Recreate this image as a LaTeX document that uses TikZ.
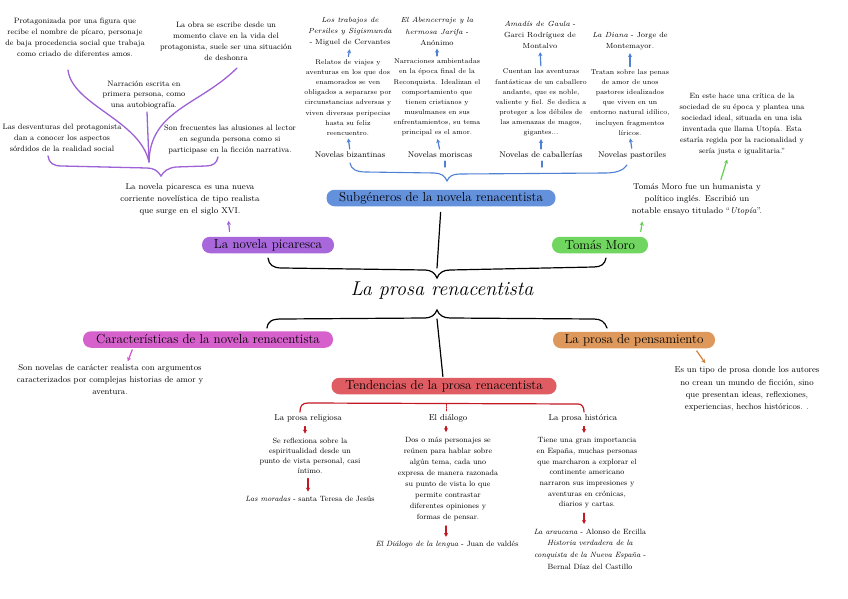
\documentclass[tikz,border=0pt]{standalone}
\usepackage{fontspec}
\usetikzlibrary{arrows.meta}
\definecolor{cbluebox}{RGB}{100,145,220}
\definecolor{cpurbox}{RGB}{168,104,220}
\definecolor{cgreenbox}{RGB}{112,214,96}
\definecolor{cmagbox}{RGB}{214,96,204}
\definecolor{corangebox}{RGB}{222,152,92}
\definecolor{credbox}{RGB}{222,92,98}
\definecolor{cpurl}{RGB}{158,98,214}
\definecolor{cbluel}{RGB}{78,128,212}
\definecolor{credl}{RGB}{196,24,36}
\definecolor{cgreenl}{RGB}{100,210,80}
\definecolor{cpinkl}{RGB}{214,80,200}
\definecolor{corangel}{RGB}{210,130,60}
\tikzset{
 tA/.style={align=center, inner sep=1pt, font=\fontsize{7.8}{10.9}\selectfont},
 tT/.style={align=center, inner sep=1pt, font=\fontsize{7.4}{11.3}\selectfont},
 tD/.style={align=center, inner sep=1pt, font=\fontsize{6.9}{10.1}\selectfont},
 tL/.style={align=center, inner sep=1pt, font=\fontsize{8.2}{10}\selectfont},
 tB/.style={align=center, inner sep=1pt, font=\fontsize{8.4}{12}\selectfont},
 tH/.style={align=center, inner sep=1pt, font=\fontsize{8.5}{12.2}\selectfont},
 tK/.style={align=center, inner sep=1pt, font=\fontsize{8.5}{10}\selectfont},
 tR/.style={align=center, inner sep=1pt, font=\fontsize{7.6}{10.7}\selectfont},
 pill/.style={rounded corners=8pt, minimum height=16.5pt, inner xsep=4pt, inner ysep=1pt, font=\fontsize{13}{14}\selectfont},
 purpline/.style={draw=cpurl, line width=1.3pt, line cap=round},
 blueline/.style={draw=cbluel, line width=1.1pt, line cap=round},
 blackline/.style={draw=black, line width=1.2pt, line cap=round},
 redline/.style={draw=credl, line width=1.2pt, line cap=round},
 smallarr/.style={-{Stealth[length=4pt,width=4.2pt]}, line width=1.2pt, line cap=round},
 bluearr/.style={smallarr, draw=cbluel, fill=cbluel, shorten >=2pt, shorten <=2pt},
 redarr/.style={smallarr, draw=credl, fill=credl, shorten >=3.5pt, shorten <=3.5pt},
}
\begin{document}
\begin{tikzpicture}[x=1pt,y=-1pt]
\useasboundingbox (0,0) rectangle (848,599);
\fill[white] (0,0) rectangle (848,599);

% ---------- picaresca texts ----------
\node[tA] (A) at (75,37.5) {Protagonizada por una figura que\\recibe el nombre de pícaro, personaje\\de baja procedencia social que trabaja\\como criado de diferentes amos.};
\node[tA] (B) at (226,41.5) {La obra se escribe desde un\\momento clave en la vida del\\protagonista, suele ser una situación\\de deshonra};
\node[tA, font=\fontsize{7.8}{10.2}\selectfont] (C) at (144,95) {Narración escrita en\\primera persona, como\\una autobiografía.};
\node[tA] (D) at (62,138) {Las desventuras del protagonista\\dan a conocer los aspectos\\sórdidos de la realidad social};
\node[tA, font=\fontsize{7.8}{11.4}\selectfont] (E) at (230,139.5) {Son frecuentes las alusiones al lector\\en segunda persona como si\\participase en la ficción narrativa.};
\node[tB] (F) at (190,199) {La novela picaresca es una nueva\\corriente novelística de tipo realista\\que surge en el siglo XVI.};

\coordinate (pj) at (149,162);
\coordinate (pa) at (68,70);
\coordinate (pb) at (237,68);
\coordinate (pc) at (147,112);
\draw[purpline] (pa) .. controls (72,105) and (140,120) .. (pj);
\draw[purpline] (pb) .. controls (200,105) and (150,110) .. (pj);
\draw[purpline] (pc) -- (pj);
\draw[purpline] (48,156) .. controls (49,163) and (53,166) .. (62,166) -- (147,168) .. controls (154,168) and (158,171) .. (161,176) .. controls (164,171) and (168,168) .. (176,167) -- (206,166) .. controls (213,166) and (217,163) .. (218,157);

% ---------- subgeneros ----------
\node[tT] (t1) at (350,31.5) {\textit{Los trabajos de}\\\textit{Persiles y Sigismunda}\\- Miguel de Cervantes};
\node[tD] (d1) at (348,97.5) {Relatos de viajes y\\aventuras en los que dos\\enamorados se ven\\obligados a separarse por\\circunstancias adversas y\\viven diversas peripecias\\hasta su feliz\\reencuentro.};
\node[tL] (l1) at (350,155) {Novelas bizantinas};
\node[tT] (t2) at (437,31.5) {\textit{El Abencerraje y la}\\\textit{hermosa Jarifa} -\\Anónimo};
\node[tD] (d2) at (437,97.5) {Narraciones ambientadas\\en la época final de la\\Reconquista. Idealizan el\\comportamiento que\\tienen cristianos y\\musulmanes en sus\\enfrentamientos, su tema\\principal es el amor.};
\node[tL] (l2) at (440,155) {Novelas moriscas};
\node[tT] (t3) at (540,35) {\textit{Amadís de Gaula} -\\Garci Rodríguez de\\Montalvo};
\node[tD] (d3) at (541,102.5) {Cuentan las aventuras\\fantásticas de un caballero\\andante, que es noble,\\valiente y fiel. Se dedica a\\proteger a los débiles de\\las amenazas de magos,\\gigantes...};
\node[tL] (l3) at (541,155) {Novelas de caballerías};
\node[tT] (t4) at (630,41) {\textit{La Diana} - Jorge de\\Montemayor.};
\node[tD] (d4) at (630,102.5) {Tratan sobre las penas\\de amor de unos\\pastores idealizados\\que viven en un\\entorno natural idílico,\\incluyen fragmentos\\líricos.};
\node[tL] (l4) at (632,155) {Novelas pastoriles};

\foreach \i in {1,2,3,4}{
 \draw[bluearr] (d\i.north) -- (t\i.south);
 \draw[bluearr] (l\i.north) -- (d\i.south);
}
\draw[blueline] ([xshift=5pt,yshift=-2pt]l2.south) -- ++(0,6);
\draw[blueline] ([xshift=1pt,yshift=-2pt]l3.south) -- ++(0,6);
\draw[blueline] (350,163) .. controls (351,169) and (356,172) .. (366,172) -- (434,173) .. controls (441,173) and (445,176) .. (447,181) .. controls (449,176) and (453,174) .. (460,174) -- (605,173) .. controls (615,173) and (623,171) .. (627,165);

\node[pill, fill=cbluebox, minimum width=229pt] (sub) at (441,198) {Subgéneros de la novela renacentista};
\node[pill, fill=cpurbox, minimum width=132pt] (pic) at (268,245) {La novela picaresca};
\node[pill, fill=cgreenbox, minimum width=96pt] (tm) at (600,245) {Tomás Moro};

\draw[smallarr, draw=cpurl, fill=cpurl, shorten >=5pt, shorten <=5pt] ([xshift=-38pt]pic.north) -- ([xshift=38pt]F.south);

% ---------- Tomas Moro ----------
\node[tB] (G) at (697,199.5) {Tomás Moro fue un humanista y\\político inglés. Escribió un\\notable ensayo titulado “\textit{Utopía}”.};
\node[tA, font=\fontsize{7.6}{11}\selectfont] (H) at (742,124.5) {En este hace una crítica de la\\sociedad de su época y plantea una\\sociedad ideal, situada en una isla\\inventada que llama Utopía. Esta\\estaría regida por la racionalidad y\\sería justa e igualitaria.”};
\draw[smallarr, draw=cgreenl, fill=cgreenl, shorten >=5pt, shorten <=5pt] ([xshift=40pt]tm.north) -- ([xshift=-54pt]G.south);
\draw[smallarr, draw=cgreenl, fill=cgreenl, shorten >=3pt, shorten <=3pt] ([xshift=23pt]G.north) -- ([xshift=-14pt]H.south);

% ---------- central ----------
\draw[blackline, shorten <=6pt] (sub.south) -- (437,268);
\draw[blackline] (268,258) .. controls (269,265) and (273,268) .. (282,268) -- (425,270) .. controls (431,270) and (435,273) .. (437,278) .. controls (439,273) and (443,270) .. (450,270) -- (594,267) .. controls (601,267) and (605,264) .. (606,258);
\node[font=\fontsize{20}{22}\selectfont\itshape, inner sep=1pt] (title) at (442,291) {La prosa renacentista};
\draw[blackline] (267,328) .. controls (268,321) and (272,319) .. (282,319) -- (425,318) .. controls (431,318) and (435,315) .. (437,310) .. controls (439,315) and (443,318) .. (450,318) -- (594,319) .. controls (601,319) and (605,322) .. (607,328);

\node[pill, fill=cmagbox, minimum width=250pt] (car) at (208,339.5) {Características de la novela renacentista};
\node[pill, fill=corangebox, minimum width=162pt] (pens) at (634,340) {La prosa de pensamiento};
\node[pill, fill=credbox, minimum width=225pt] (tend) at (444,386) {Tendencias de la prosa renacentista};
\draw[blackline, shorten >=1pt] (437,319) -- ([xshift=-1pt]tend.north);

\node[tH] (I) at (110,379.5) {Son novelas de carácter realista con argumentos\\caracterizados por complejas historias de amor y\\aventura.};
\node[tH] (J) at (747,389) {Es un tipo de prosa donde los autores\\no crean un mundo de ficción, sino\\que presentan ideas, reflexiones,\\experiencias, hechos históricos. .};
\draw[smallarr, draw=cpinkl, fill=cpinkl, shorten >=2pt, shorten <=2pt] ([xshift=-75pt]car.south) -- ([xshift=17pt]I.north);
\draw[smallarr, draw=corangel, fill=corangel, shorten >=3pt, shorten <=3pt] ([xshift=61pt]pens.south) -- ([xshift=-40pt]J.north);

% ---------- tendencias ----------
\draw[redline] (300,412) .. controls (300,406) and (302,403) .. (308,403) -- (578,404) .. controls (582,404) and (584,407) .. (584,412);
\draw[redline, line width=0.9pt, dash pattern=on 1.5pt off 1.2pt] (446,404) -- (446,411);

\node[tK] (K) at (308,418) {La prosa religiosa};
\node[tR, font=\fontsize{7.6}{10}\selectfont] (L) at (310,456) {Se reflexiona sobre la\\espiritualidad desde un\\punto de vista personal, casi\\íntimo.};
\node[tR] (M) at (310,499) {\textit{Las moradas} - santa Teresa de Jesús};
\node[tK] (N) at (448,418) {El diálogo};
\node[tR, font=\fontsize{7.6}{11.1}\selectfont] (O) at (448,479) {Dos o más personajes se\\reúnen para hablar sobre\\algún tema, cada uno\\expresa de manera razonada\\su punto de vista lo que\\permite contrastar\\diferentes opiniones y\\formas de pensar.};
\node[tR] (P) at (447,545) {\textit{El Diálogo de la lengua} - Juan de valdés};
\node[tK] (Q) at (583,418) {La prosa histórica};
\node[tR] (R) at (587,473) {Tiene una gran importancia\\en España, muchas personas\\que marcharon a explorar el\\continente americano\\narraron sus impresiones y\\aventuras en crónicas,\\diarios y cartas.};
\node[tR, font=\fontsize{7.6}{11.7}\selectfont] (S) at (590,549) {\textit{La araucana} - Alonso de Ercilla\\\textit{Historia verdadera de la}\\\textit{conquista de la Nueva España} -\\Bernal Díaz del Castillo};

\draw[redarr] ([xshift=-3pt]K.south) -- ([xshift=-5pt]L.north);
\draw[redarr] ([xshift=-2pt]L.south) -- ([xshift=-2pt]M.north);
\draw[redarr] ([xshift=-2pt]N.south) -- ([xshift=-2pt]O.north);
\draw[redarr] ([xshift=-2pt]O.south) -- ([xshift=-1pt]P.north);
\draw[redarr] ([xshift=1pt]Q.south) -- ([xshift=-3pt]R.north);
\draw[redarr] ([xshift=-3pt]R.south) -- ([xshift=-6pt]S.north);
\end{tikzpicture}
\end{document}
